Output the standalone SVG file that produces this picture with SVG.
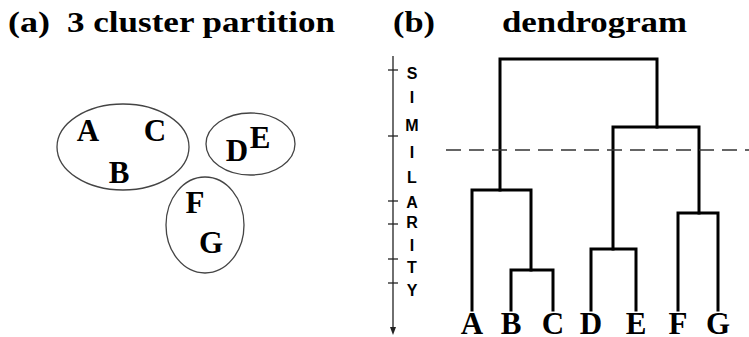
<svg xmlns="http://www.w3.org/2000/svg" width="749" height="337" viewBox="0 0 749 337">
  <style>
    .title { font-family: "Liberation Serif", "Times New Roman", serif; font-weight: bold; font-size: 30px; fill: #000; }
    .pt { font-family: "Liberation Serif", "Times New Roman", serif; font-weight: bold; font-size: 31px; fill: #000; text-anchor: middle; }
    .leaf { font-family: "Liberation Serif", "Times New Roman", serif; font-weight: bold; font-size: 31px; fill: #000; text-anchor: middle; }
    .axl { font-family: "Liberation Sans", Arial, sans-serif; font-weight: bold; font-size: 16px; fill: #000; text-anchor: middle; }
    .clu { fill: none; stroke: #444; stroke-width: 1.3; }
    .br { fill: none; stroke: #000; stroke-width: 3; stroke-linejoin: miter; stroke-linecap: square; }
    .tick { stroke: #222; stroke-width: 1.3; }
  </style>
  <defs>
    <marker id="axhead" markerWidth="8" markerHeight="8" refX="4" refY="4" orient="auto" markerUnits="userSpaceOnUse">
      <path d="M0,1 L8,4 L0,7 Z" fill="#222"/>
    </marker>
  </defs>
  <rect width="749" height="337" fill="#fff"/>

  <!-- panel titles -->
  <text class="title" x="8" y="32" textLength="42" lengthAdjust="spacingAndGlyphs">(a)</text>
  <text class="title" x="67" y="32" textLength="268" lengthAdjust="spacingAndGlyphs">3 cluster partition</text>
  <text class="title" x="393" y="32" textLength="42" lengthAdjust="spacingAndGlyphs">(b)</text>
  <text class="title" x="502" y="32" textLength="185" lengthAdjust="spacingAndGlyphs">dendrogram</text>

  <!-- (a) three-cluster partition -->
  <g id="cluster-abc">
    <ellipse class="clu" cx="123" cy="147" rx="66" ry="43"/>
    <text class="pt" x="88" y="141">A</text>
    <text class="pt" x="155" y="141">C</text>
    <text class="pt" x="119" y="183">B</text>
  </g>
  <g id="cluster-de">
    <ellipse class="clu" cx="250.5" cy="144" rx="44.5" ry="31"/>
    <text class="pt" x="237" y="161">D</text>
    <text class="pt" x="260" y="148">E</text>
  </g>
  <g id="cluster-fg">
    <ellipse class="clu" cx="205" cy="225" rx="39" ry="48"/>
    <text class="pt" x="195" y="213">F</text>
    <text class="pt" x="211" y="253">G</text>
  </g>

  <!-- (b) similarity axis -->
  <g id="axis">
    <line x1="393" y1="56" x2="393" y2="331" stroke="#222" stroke-width="1.3" marker-end="url(#axhead)"/>
    <line class="tick" x1="388" y1="70" x2="398" y2="70"/>
    <line class="tick" x1="388" y1="136" x2="398" y2="136"/>
    <line class="tick" x1="388" y1="201" x2="398" y2="201"/>
    <line class="tick" x1="388" y1="224" x2="398" y2="224"/>
    <line class="tick" x1="388" y1="259" x2="398" y2="259"/>
    <line class="tick" x1="388" y1="283" x2="398" y2="283"/>
    <text class="axl" x="412" y="79">S</text>
    <text class="axl" x="412" y="103">I</text>
    <text class="axl" x="412" y="131">M</text>
    <text class="axl" x="412" y="158">I</text>
    <text class="axl" x="412" y="183">L</text>
    <text class="axl" x="412" y="208">A</text>
    <text class="axl" x="412" y="228">R</text>
    <text class="axl" x="412" y="251">I</text>
    <text class="axl" x="412" y="273">T</text>
    <text class="axl" x="412" y="296">Y</text>
  </g>

  <!-- dendrogram branches -->
  <g id="connectors">
    <path class="br" d="M511,310 V270 H553 V310"/>
    <path class="br" d="M472,310 V190 H531 V270"/>
    <path class="br" d="M591,310 V249 H636 V310"/>
    <path class="br" d="M678,310 V213 H718 V310"/>
    <path class="br" d="M613,249 V127 H699 V213"/>
    <path class="br" d="M500,190 V59 H657 V127"/>
    <!-- cut level giving three clusters -->
    <line x1="446" y1="150" x2="749" y2="150" stroke="#333" stroke-width="1.5" stroke-dasharray="15 8"/>
  </g>

  <!-- leaves -->
  <g id="leaf-a"><text class="leaf" x="472" y="334">A</text></g>
  <g id="leaf-b"><text class="leaf" x="511" y="334">B</text></g>
  <g id="leaf-c"><text class="leaf" x="553" y="334">C</text></g>
  <g id="leaf-d"><text class="leaf" x="591" y="334">D</text></g>
  <g id="leaf-e"><text class="leaf" x="636" y="334">E</text></g>
  <g id="leaf-f"><text class="leaf" x="678" y="334">F</text></g>
  <g id="leaf-g"><text class="leaf" x="718" y="334">G</text></g>
</svg>
